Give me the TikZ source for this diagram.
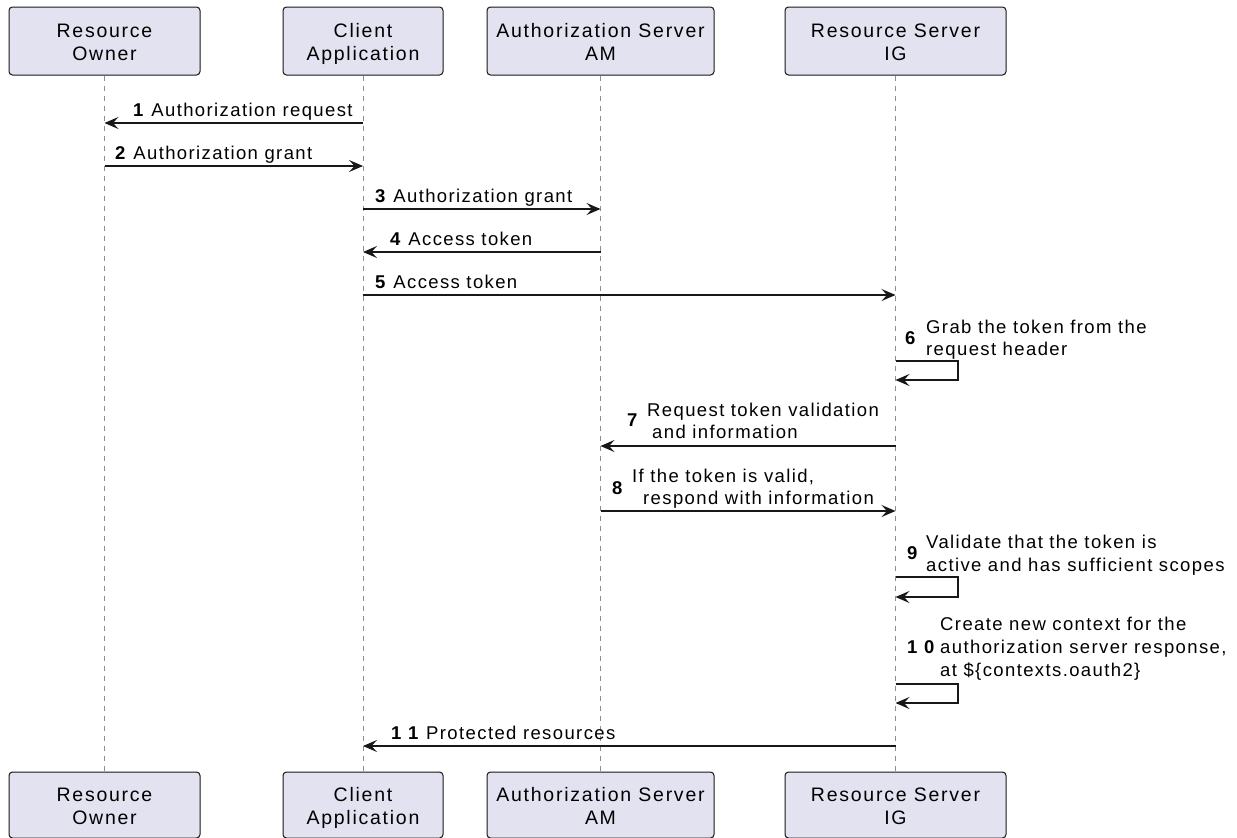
\documentclass[tikz,border=0pt]{standalone}
\usepackage{fontspec}
\setmainfont{Liberation Sans}[LetterSpace=9]
\newfontfamily\lblfont{Liberation Sans}[LetterSpace=7.5]
\usetikzlibrary{arrows.meta}
\definecolor{pfill}{HTML}{E2E2F0}
\definecolor{pline}{HTML}{181818}
\definecolor{lline}{HTML}{8E8E8E}
\newcommand\toprule{\rule{0pt}{20pt}}
\newcommand\botrule{\rule[-5pt]{0pt}{5pt}}
\tikzset{
  part/.style={draw=pline, line width=1pt, fill=pfill, rounded corners=3.5pt,
    align=center, inner sep=0pt, minimum height=68pt,
    font=\fontsize{19.5}{23}\selectfont, text=black},
  lifeline/.style={draw=lline, line width=1pt, dash pattern=on 5pt off 5pt},
  msg/.style={draw=pline, line width=1.2pt,
    -{Stealth[length=14pt,width=12pt,inset=5.5pt]}},
  lbl/.style={anchor=base west, inner sep=0pt, font=\lblfont\fontsize{18.5}{22.5}\selectfont, text=black,
    yshift=-1.5pt},
  num/.style={anchor=base west, inner sep=0pt, font=\lblfont\fontsize{18.5}{22.5}\selectfont\bfseries, text=black,
    yshift=-1.5pt}
}
\begin{document}
\begin{tikzpicture}[x=1pt,y=-1pt]
\useasboundingbox[fill=white] (0,0) rectangle (1237,838);
% participants top
\node[part, minimum width=191pt] (ro) at (104.5,41) {\toprule Resource\\Owner\botrule};
\node[part, minimum width=160pt] (cl) at (363,41) {\toprule Client\\Application\botrule};
\node[part, minimum width=227pt] (as) at (600.5,41) {\toprule Authorization Server\\AM\botrule};
\node[part, minimum width=221pt] (rs) at (895.5,41) {\toprule Resource Server\\IG\botrule};
% participants bottom
\node[part, minimum width=191pt, minimum height=66pt] (rob) at (104.5,805) {\toprule Resource\\Owner\botrule};
\node[part, minimum width=160pt, minimum height=66pt] (clb) at (363,805) {\toprule Client\\Application\botrule};
\node[part, minimum width=227pt, minimum height=66pt] (asb) at (600.5,805) {\toprule Authorization Server\\AM\botrule};
\node[part, minimum width=221pt, minimum height=66pt] (rsb) at (895.5,805) {\toprule Resource Server\\IG\botrule};
% lifelines
\draw[lifeline] (ro.south) -- (rob.north);
\draw[lifeline] (cl.south) -- (clb.north);
\draw[lifeline] (as.south) -- (asb.north);
\draw[lifeline] (rs.south) -- (rsb.north);

% 1
\draw[msg] (cl |- 0,123) -- (ro |- 0,123);
\node[lbl] (l1) at (133,115) {\textbf{1} Authorization request};
% 2
\draw[msg] (ro |- 0,166) -- (cl |- 0,166);
\node[lbl] (l2) at (115,158) {\textbf{2} Authorization grant};
% 3
\draw[msg] (cl |- 0,209) -- (as |- 0,209);
\node[lbl] (l3) at (375,201) {\textbf{3} Authorization grant};
% 4
\draw[msg] (as |- 0,252) -- (cl |- 0,252);
\node[lbl] (l4) at (390,244) {\textbf{4} Access token};
% 5
\draw[msg] (cl |- 0,295) -- (rs |- 0,295);
\node[lbl] (l5) at (375,287) {\textbf{5} Access token};
% 6
\draw[msg] (rs |- 0,361) -- (958,361) -- (958,380) -- (rs |- 0,380);
\node[num] (n6) at (905,343) {6};
\node[lbl] (l6a) at (926,332) {Grab the token from the};
\node[lbl] (l6b) at (926,354) {request header};
% 7
\draw[msg] (rs |- 0,446) -- (as |- 0,446);
\node[num] (n7) at (627,425) {7};
\node[lbl] (l7a) at (647,415) {Request token validation};
\node[lbl] (l7b) at (652,437) {and information};
% 8
\draw[msg] (as |- 0,511) -- (rs |- 0,511);
\node[num] (n8) at (612,493) {8};
\node[lbl] (l8a) at (632,481) {If the token is valid,};
\node[lbl] (l8b) at (643,503) {respond with information};
% 9
\draw[msg] (rs |- 0,577) -- (958,577) -- (958,597) -- (rs |- 0,597);
\node[num] (n9) at (907,558) {9};
\node[lbl] (l9a) at (926,547) {Validate that the token is};
\node[lbl] (l9b) at (926,570) {active and has sufficient scopes};
% 10
\draw[msg] (rs |- 0,684) -- (958,684) -- (958,703) -- (rs |- 0,703);
\node[num] (n10) at (907,652) {1 0};
\node[lbl] (l10a) at (940,629) {Create new context for the};
\node[lbl] (l10b) at (940,652) {authorization server response,};
\node[lbl] (l10c) at (940,675) {at \$\{contexts.oauth2\}};
% 11
\draw[msg] (rs |- 0,746) -- (cl |- 0,746);
\node[lbl] (l11) at (391,738) {\textbf{1 1} Protected resources};
\end{tikzpicture}
\end{document}
